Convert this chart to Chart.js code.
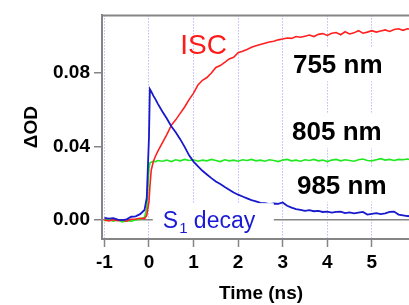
<!DOCTYPE html>
<html>
<head>
<meta charset="utf-8">
<script src="https://cdn.jsdelivr.net/npm/chart.js@4.4.1/dist/chart.umd.min.js"></script>
<style>
  html, body { margin: 0; padding: 0; background: #fff; overflow: hidden; }
</style>
</head>
<body>
<canvas id="grafico" width="420" height="305"></canvas>
<script>
// time axis (ns)
var tempo = [-1.0,-0.9,-0.8,-0.7,-0.6,-0.5,-0.4,-0.3,-0.2,-0.1,
  -0.05,0,0.02,0.05,0.1,0.15,0.2,
  0.3,0.4,0.5,0.6,0.7,0.8,0.9,1.0,
  1.1,1.2,1.3,1.4,1.5,1.6,1.7,1.8,1.9,2.0,
  2.1,2.2,2.3,2.4,2.5,2.6,2.7,2.8,2.9,3.0,
  3.1,3.2,3.3,3.4,3.5,3.6,3.7,3.8,3.9,4.0,
  4.1,4.2,4.3,4.4,4.5,4.6,4.7,4.8,4.9,5.0,
  5.1,5.2,5.3,5.4,5.5,5.6,5.7,5.8,5.9];

// 985 nm (S1 decay)
var od985 = [0.0012,0.0008,0.0010,0.0002,0.0000,0.0004,0.0018,0.0020,0.0032,0.0055,
  0.0120,0.0450,0.0712,0.0700,0.0675,0.0655,0.0632,
  0.0590,0.0552,0.0510,0.0478,0.0440,0.0398,0.0352,0.0318,
  0.0292,0.0268,0.0248,0.0228,0.0210,0.0196,0.0180,0.0165,0.0150,0.0138,
  0.0128,0.0118,0.0108,0.0102,0.0094,0.0092,0.0086,0.0090,0.0088,0.0096,
  0.0078,0.0068,0.0060,0.0056,0.0050,0.0054,0.0048,0.0050,0.0044,0.0046,
  0.0040,0.0044,0.0046,0.0038,0.0042,0.0036,0.0040,0.0044,0.0030,0.0034,
  0.0038,0.0032,0.0036,0.0044,0.0046,0.0030,0.0026,0.0022,0.0020];

// 755 nm (ISC)
var od755 = [0.0000,-0.0005,0.0002,-0.0004,0.0000,-0.0006,0.0004,0.0006,0.0010,0.0008,
  0.0025,0.0100,0.0180,0.0270,0.0320,0.0350,0.0375,
  0.0420,0.0465,0.0515,0.0545,0.0580,0.0615,0.0655,0.0690,
  0.0735,0.0760,0.0775,0.0800,0.0830,0.0840,0.0858,0.0876,0.0885,0.0910,
  0.0918,0.0928,0.0940,0.0948,0.0955,0.0962,0.0968,0.0972,0.0980,0.0985,
  0.0990,0.0988,0.0998,0.0994,0.1000,0.1006,0.0998,0.1010,0.1014,0.1004,
  0.1016,0.1020,0.1008,0.1024,0.1012,0.1018,0.1030,0.1016,0.1022,0.1030,
  0.1022,0.1028,0.1034,0.1026,0.1036,0.1040,0.1032,0.1040,0.1038];

// 805 nm
var od805 = [-0.0004,0.0002,-0.0006,0.0000,-0.0010,-0.0002,-0.0006,0.0000,0.0004,0.0015,
  0.0060,0.0280,0.0310,0.0315,0.0320,0.0318,0.0324,
  0.0320,0.0326,0.0318,0.0328,0.0322,0.0330,0.0324,0.0328,
  0.0320,0.0326,0.0322,0.0330,0.0324,0.0318,0.0328,0.0322,0.0326,0.0320,
  0.0328,0.0324,0.0330,0.0322,0.0326,0.0320,0.0328,0.0324,0.0318,0.0326,
  0.0330,0.0322,0.0326,0.0320,0.0328,0.0324,0.0330,0.0322,0.0326,0.0318,
  0.0326,0.0330,0.0322,0.0328,0.0324,0.0320,0.0328,0.0332,0.0324,0.0322,
  0.0328,0.0334,0.0326,0.0330,0.0324,0.0330,0.0328,0.0332,0.0326];

var xTicks = [-1, 0, 1, 2, 3, 4, 5];
var yTicks = [0, 0.04, 0.08];

var fonte = 'Liberation Sans, Arial, sans-serif';

// text labels inside the plot, placed in data units (left x, baseline y)
var rotulos = [
  { text: 'ISC', x: 0.70, y: 0.0905, color: '#ff1a1a', font: '28px ' + fonte, box: false },
  { text: '755 nm', x: 3.23, y: 0.0798, color: '#000', font: 'bold 26px ' + fonte, box: true },
  { text: '805 nm', x: 3.21, y: 0.0436, color: '#000', font: 'bold 26px ' + fonte, box: true },
  { text: '985 nm', x: 3.32, y: 0.0142, color: '#000', font: 'bold 26px ' + fonte, box: true }
];

function pontos(vals) {
  return tempo.map(function (t, i) { return { x: t, y: vals[i] }; });
}

var cinza = '#858585';

var extras = {
  id: 'extras',
  afterDatasetsDraw: function (chart) {
    var ctx = chart.ctx;
    var area = chart.chartArea;
    var sx = chart.scales.x, sy = chart.scales.y;

    ctx.save();
    // top frame line
    ctx.strokeStyle = cinza;
    ctx.lineWidth = 2;
    ctx.beginPath();
    ctx.moveTo(area.left - 1, area.top);
    ctx.lineTo(area.right, area.top);
    ctx.stroke();

    ctx.textBaseline = 'alphabetic';
    ctx.textAlign = 'left';
    rotulos.forEach(function (r) {
      var px = sx.getPixelForValue(r.x);
      var py = sy.getPixelForValue(r.y);
      ctx.font = r.font;
      var w = ctx.measureText(r.text).width;
      if (r.box) {
        ctx.fillStyle = '#fff';
        ctx.fillRect(px - 8, py - 26, w + 16, 34);
      }
      ctx.fillStyle = r.color;
      ctx.fillText(r.text, px, py);
    });

    // S1 decay label with subscript
    var lx = sx.getPixelForValue(0.31);
    var ly = sy.getPixelForValue(-0.0044);
    ctx.fillStyle = '#fff';
    ctx.fillRect(lx - 10, ly - 25, 121, area.bottom - (ly - 25) - 1);
    ctx.fillStyle = '#1a1ad6';
    ctx.font = '23px ' + fonte;
    ctx.fillText('S', lx, ly);
    var ws = ctx.measureText('S').width;
    ctx.font = '15px ' + fonte;
    ctx.fillText('1', lx + ws + 1, ly + 5);
    var w1 = ctx.measureText('1').width;
    ctx.font = '23px ' + fonte;
    ctx.fillText(' decay', lx + ws + w1 + 1, ly);
    ctx.restore();
  }
};

var grafico = new Chart(document.getElementById('grafico').getContext('2d'), {
  type: 'line',
  data: {
    datasets: [
      { label: '985 nm', data: pontos(od985), borderColor: '#1818cc', borderWidth: 1.8 },
      { label: '755 nm', data: pontos(od755), borderColor: '#ff2020', borderWidth: 1.6 },
      { label: '805 nm', data: pontos(od805), borderColor: '#22e822', borderWidth: 1.6 }
    ]
  },
  options: {
    responsive: false,
    animation: false,
    devicePixelRatio: 1,
    layout: { padding: { top: 11, left: 0, right: 0, bottom: 0 } },
    elements: { point: { radius: 0 }, line: { tension: 0, fill: false } },
    plugins: { legend: { display: false }, tooltip: { enabled: false } },
    scales: {
      x: {
        type: 'linear',
        min: -1.054,
        max: 6.081,
        afterFit: function (s) { s.height = 66; },
        afterBuildTicks: function (s) { s.ticks = xTicks.map(function (v) { return { value: v }; }); },
        ticks: {
          color: '#000',
          font: { family: fonte, size: 19, weight: 'bold' },
          padding: 4,
          autoSkip: false,
          maxRotation: 0,
          callback: function (v) { return String(v); }
        },
        grid: {
          color: 'rgba(120,120,255,0.75)',
          lineWidth: 1,
          tickColor: cinza,
          tickLength: 8,
          tickWidth: 1.5
        },
        border: { display: true, color: cinza, width: 2, dash: [1, 2] },
        title: {
          display: true,
          text: 'Time (ns)',
          color: '#000',
          font: { family: fonte, size: 19, weight: 'bold' },
          padding: { top: 0, bottom: 0 }
        }
      },
      y: {
        min: -0.0103,
        max: 0.1113,
        afterFit: function (s) { s.width = 102; },
        afterBuildTicks: function (s) { s.ticks = yTicks.map(function (v) { return { value: v }; }); },
        ticks: {
          color: '#000',
          font: { family: fonte, size: 19, weight: 'bold' },
          padding: 4,
          callback: function (v) { return v.toFixed(2); }
        },
        grid: {
          color: function (c) { return c.tick && c.tick.value === 0 ? cinza : 'rgba(0,0,0,0)'; },
          lineWidth: 1.5,
          tickColor: cinza,
          tickLength: 8,
          tickWidth: 1.5
        },
        border: { display: true, color: cinza, width: 2 },
        title: {
          display: true,
          text: 'ΔOD',
          color: '#000',
          font: { family: fonte, size: 19, weight: 'bold' },
          padding: { top: 20, bottom: 0 }
        }
      }
    }
  },
  plugins: [extras]
});
</script>
</body>
</html>
